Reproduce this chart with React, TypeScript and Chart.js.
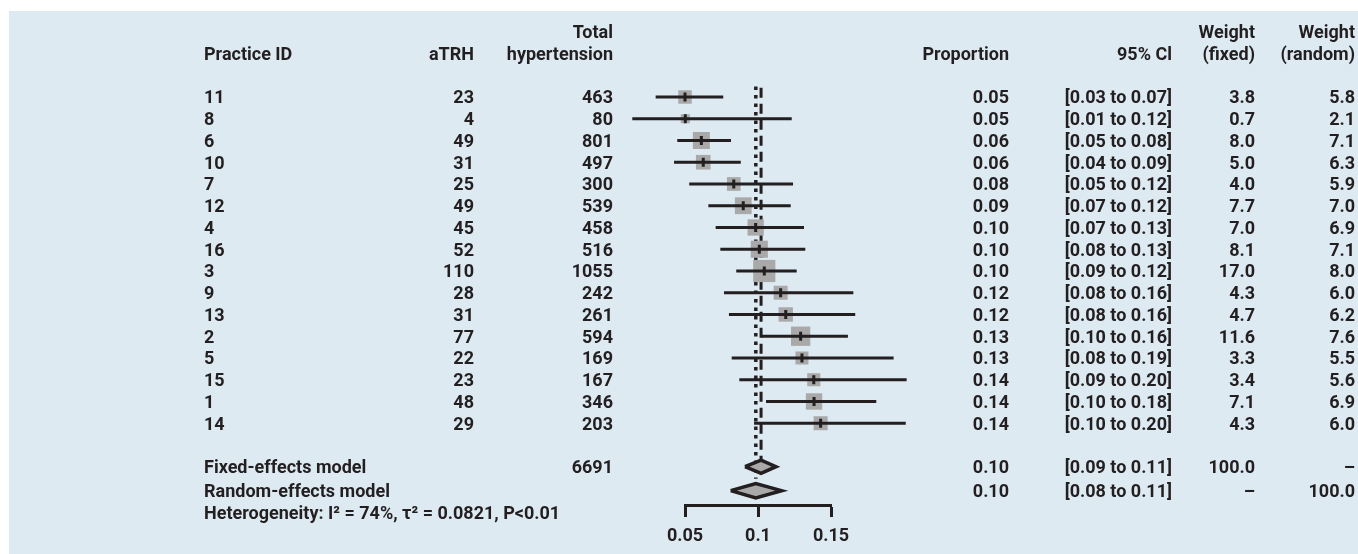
import React, { useEffect, useRef } from "react";
import { Chart, registerables } from "chart.js";

Chart.register(...registerables);

// ---------- data ----------
const PRACTICE_IDS = ["11", "8", "6", "10", "7", "12", "4", "16", "3", "9", "13", "2", "5", "15", "1", "14"];
const ATRH = [23, 4, 49, 31, 25, 49, 45, 52, 110, 28, 31, 77, 22, 23, 48, 29];
const TOTAL = [463, 80, 801, 497, 300, 539, 458, 516, 1055, 242, 261, 594, 169, 167, 346, 203];
const PROPORTION_LABELS = ["0.05", "0.05", "0.06", "0.06", "0.08", "0.09", "0.10", "0.10", "0.10", "0.12", "0.12", "0.13", "0.13", "0.14", "0.14", "0.14"];
const CI_LABELS = [
  "[0.03 to 0.07]", "[0.01 to 0.12]", "[0.05 to 0.08]", "[0.04 to 0.09]",
  "[0.05 to 0.12]", "[0.07 to 0.12]", "[0.07 to 0.13]", "[0.08 to 0.13]",
  "[0.09 to 0.12]", "[0.08 to 0.16]", "[0.08 to 0.16]", "[0.10 to 0.16]",
  "[0.08 to 0.19]", "[0.09 to 0.20]", "[0.10 to 0.18]", "[0.10 to 0.20]",
];
const WEIGHT_FIXED = [3.8, 0.7, 8.0, 5.0, 4.0, 7.7, 7.0, 8.1, 17.0, 4.3, 4.7, 11.6, 3.3, 3.4, 7.1, 4.3];
const WEIGHT_RANDOM = [5.8, 2.1, 7.1, 6.3, 5.9, 7.0, 6.9, 7.1, 8.0, 6.0, 6.2, 7.6, 5.5, 5.6, 6.9, 6.0];

// plotted estimates and CI bounds
const EST = [0.05, 0.0502, 0.0612, 0.0625, 0.0834, 0.0899, 0.0984, 0.1009, 0.1043, 0.1155, 0.119, 0.1292, 0.1301, 0.1382, 0.1384, 0.1429];
const CI_LO = [0.0299, 0.0139, 0.0447, 0.0425, 0.0529, 0.066, 0.071, 0.0742, 0.0851, 0.0767, 0.0801, 0.1023, 0.082, 0.0872, 0.1055, 0.0973];
const CI_HI = [0.0762, 0.1231, 0.0815, 0.0882, 0.124, 0.1224, 0.1315, 0.1324, 0.1265, 0.1653, 0.1666, 0.1616, 0.1929, 0.2018, 0.181, 0.2012];

// pooled models
const FIXED_EST = 0.1021;
const FIXED_LO = 0.0911;
const FIXED_HI = 0.1123;
const RANDOM_EST = 0.0985;
const RANDOM_LO = 0.0813;
const RANDOM_HI = 0.1162;
const FIXED_TOTAL = "6691";
const FIXED_ROW_LABELS = ["Fixed-effects model", FIXED_TOTAL, "0.10", "[0.09 to 0.11]", "100.0", "–"];
const RANDOM_ROW_LABELS = ["Random-effects model", "", "0.10", "[0.08 to 0.11]", "–", "100.0"];
const HETEROGENEITY = "Heterogeneity: I\u00B2 = 74%, \u03C4\u00B2 = 0.0821, P<0.01";

const X_TICKS = [0.05, 0.1, 0.15];
const X_TICK_LABELS = ["0.05", "0.1", "0.15"];

const HEADER_TOP = ["", "", "Total", "", "", "Weight", "Weight"];
const HEADER_BOTTOM = ["Practice ID", "aTRH", "hypertension", "Proportion", "95% Cl", "(fixed)", "(random)"];

// ---------- layout / style ----------
const FIXED_ROW = 17;
const RANDOM_ROW = 18.1;
const HET_ROW = 19.1;
const HEADER_ROW_TOP = -3;
const HEADER_ROW_BOTTOM = -2;

const INK = "#231f20";
const GREY = "#a9a9a9";
const BG = "#ddeaf2";
const FONT_FAMILY = "Roboto, 'Open Sans', sans-serif";
const FONT_SIZE = 18;
const FONT = `bold ${FONT_SIZE}px ${FONT_FAMILY}`;

// column x positions and alignment
const COLS: { x: number; align: CanvasTextAlign }[] = [
  { x: 204, align: "left" },
  { x: 474, align: "right" },
  { x: 613, align: "right" },
  { x: 1009, align: "right" },
  { x: 1172, align: "right" },
  { x: 1255, align: "right" },
  { x: 1355, align: "right" },
];

const squareSide = (w: number) => 5.7 + 4 * Math.sqrt(w);

export default function App() {
  const ref = useRef<HTMLCanvasElement | null>(null);

  useEffect(() => {
    document.body.style.margin = "0";
    const canvas = ref.current;
    if (!canvas) return;

    const ciData: { x: number; y: number | null }[] = [];
    EST.forEach((_, i) => {
      ciData.push({ x: CI_LO[i], y: i }, { x: CI_HI[i], y: i }, { x: CI_HI[i], y: null });
    });

    const diamond = (lo: number, est: number, hi: number, row: number, h: number) => [
      { x: lo, y: row },
      { x: est, y: row - h },
      { x: hi, y: row },
      { x: est, y: row + h },
      { x: lo, y: row },
    ];

    const textPlugin = {
      id: "forestText",
      beforeDraw(chart: any) {
        const { ctx, width, height } = chart;
        ctx.save();
        ctx.fillStyle = BG;
        ctx.fillRect(9, 11, width - 9, height - 11);
        ctx.restore();
      },
      afterDraw(chart: any) {
        const { ctx } = chart;
        const y = chart.scales.y;
        const put = (text: string, col: number, row: number) => {
          if (!text) return;
          const c = COLS[col];
          ctx.textAlign = c.align;
          ctx.fillText(text, c.x, y.getPixelForValue(row) + 2);
        };
        ctx.save();
        ctx.font = FONT;
        ctx.fillStyle = INK;
        ctx.textBaseline = "middle";
        HEADER_TOP.forEach((t, c) => put(t, c, HEADER_ROW_TOP));
        HEADER_BOTTOM.forEach((t, c) => put(t, c, HEADER_ROW_BOTTOM));
        PRACTICE_IDS.forEach((id, i) => {
          put(id, 0, i);
          put(String(ATRH[i]), 1, i);
          put(String(TOTAL[i]), 2, i);
          put(PROPORTION_LABELS[i], 3, i);
          put(CI_LABELS[i], 4, i);
          put(WEIGHT_FIXED[i].toFixed(1), 5, i);
          put(WEIGHT_RANDOM[i].toFixed(1), 6, i);
        });
        const footerCols = [0, 2, 3, 4, 5, 6];
        FIXED_ROW_LABELS.forEach((t, k) => put(t, footerCols[k], FIXED_ROW));
        RANDOM_ROW_LABELS.forEach((t, k) => put(t, footerCols[k], RANDOM_ROW));
        put(HETEROGENEITY, 0, HET_ROW);
        ctx.restore();
      },
    };

    const chart = new Chart(canvas, {
      type: "scatter",
      data: {
        datasets: [
          {
            // point-estimate ticks (top)
            data: EST.map((x, i) => ({ x, y: i })),
            pointStyle: "line",
            rotation: 90,
            pointRadius: 4.5,
            borderWidth: 3,
            borderColor: INK,
            order: 0,
            clip: false,
          } as any,
          {
            // confidence intervals
            data: ciData,
            showLine: true,
            spanGaps: false,
            borderColor: INK,
            borderWidth: 3,
            pointRadius: 0,
            order: 1,
            clip: false,
          } as any,
          {
            // weight squares
            data: EST.map((x, i) => ({ x, y: i })),
            pointStyle: "rect",
            pointRadius: WEIGHT_FIXED.map((w) => squareSide(w) / Math.SQRT2),
            backgroundColor: GREY,
            borderWidth: 0,
            order: 2,
            clip: false,
          } as any,
          {
            // fixed-effect diamond
            data: diamond(FIXED_LO, FIXED_EST, FIXED_HI, FIXED_ROW, 0.3),
            showLine: true,
            fill: "shape",
            backgroundColor: GREY,
            borderColor: INK,
            borderWidth: 3.5,
            borderJoinStyle: "miter",
            pointRadius: 0,
            order: 3,
            clip: false,
          } as any,
          {
            // random-effects diamond
            data: diamond(RANDOM_LO, RANDOM_EST, RANDOM_HI, RANDOM_ROW, 0.33),
            showLine: true,
            fill: "shape",
            backgroundColor: GREY,
            borderColor: INK,
            borderWidth: 3.5,
            borderJoinStyle: "miter",
            pointRadius: 0,
            order: 4,
            clip: false,
          } as any,
          {
            // fixed-effect reference line (dashed)
            data: [{ x: FIXED_EST, y: -0.42 }, { x: FIXED_EST, y: FIXED_ROW - 0.32 }],
            showLine: true,
            borderColor: INK,
            borderWidth: 3,
            borderDash: [10, 6],
            pointRadius: 0,
            order: 5,
            clip: false,
          } as any,
          {
            // random-effects reference line (dotted)
            data: [{ x: RANDOM_EST, y: -0.48 }, { x: RANDOM_EST, y: RANDOM_ROW - 0.55 }],
            showLine: true,
            borderColor: INK,
            borderWidth: 3.5,
            borderDash: [3.5, 5],
            pointRadius: 0,
            order: 6,
            clip: false,
          } as any,
        ],
      },
      options: {
        animation: false,
        responsive: false,
        devicePixelRatio: 1,
        layout: { autoPadding: false, padding: { left: 685, right: 527, top: 0, bottom: 0 } },
        plugins: { legend: { display: false }, tooltip: { enabled: false } },
        scales: {
          x: {
            type: "linear",
            position: "bottom",
            min: X_TICKS[0],
            max: X_TICKS[X_TICKS.length - 1],
            afterBuildTicks: (scale: any) => {
              scale.ticks = X_TICKS.map((value) => ({ value }));
            },
            afterFit: (scale: any) => {
              scale.height = 49;
            },
            ticks: {
              callback: (_v: any, i: number) => X_TICK_LABELS[i],
              color: INK,
              font: { family: FONT_FAMILY, size: FONT_SIZE, weight: "bold" },
              padding: 9,
              maxRotation: 0,
            },
            grid: {
              drawOnChartArea: false,
              drawTicks: true,
              tickLength: 12,
              tickWidth: 3,
              tickColor: INK,
            },
            border: { display: true, width: 3, color: INK },
          },
          y: {
            type: "linear",
            display: false,
            reverse: true,
            min: -4.46,
            max: 18.76,
          },
        },
      } as any,
      plugins: [textPlugin],
    });

    return () => chart.destroy();
  }, []);

  return <canvas ref={ref} width={1358} height={554} style={{ display: "block" }} />;
}
